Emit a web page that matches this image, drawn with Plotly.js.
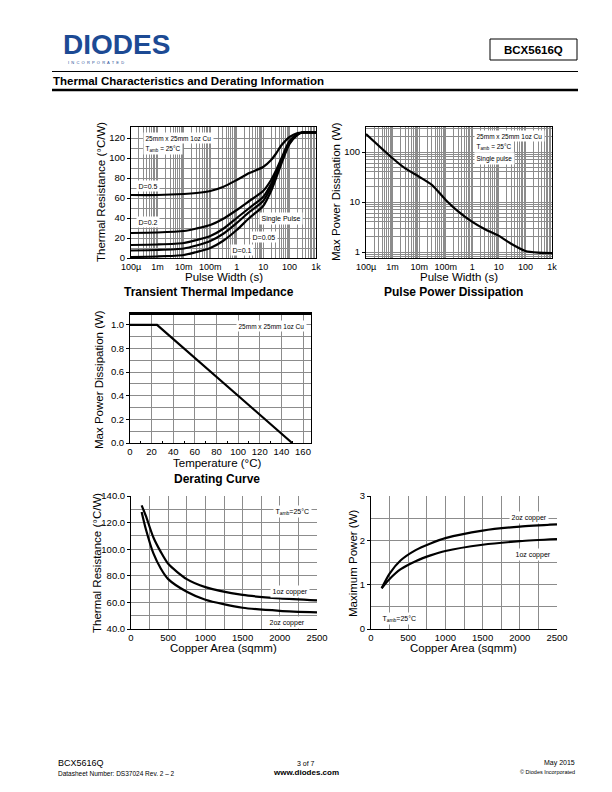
<!DOCTYPE html>
<html><head><meta charset="utf-8">
<script src="https://cdn.plot.ly/plotly-3.0.1.min.js"></script>
<style>html,body{margin:0;padding:0;background:#fff}#g{width:612px;height:792px}</style>
</head><body><div id="g"></div>
<script>
// ---------- DATA ----------
// Transient thermal impedance
const ttiPulse = [1e-4, 1e-3, 1e-2, 3e-2, 0.1, 0.3, 1, 3, 10, 20, 30, 50, 100, 200, 300, 1000];
const ttiD05   = [63, 63, 64, 65, 67, 71, 78, 85, 91, 98, 104, 113, 121, 125, 125.5, 125.5];
const ttiD02   = [25, 25.5, 27, 29.5, 33, 39, 48, 57, 67, 78, 87, 100, 117, 124, 125.5, 125.5];
const ttiD01   = [13, 13.5, 15, 18, 22, 29, 40, 50, 61, 74, 84, 98, 116, 124, 125.5, 125.5];
const ttiD005  = [7.5, 8, 9.5, 12.5, 17, 24, 35, 46, 57, 71, 82, 97, 115, 123.5, 125.5, 125.5];
const ttiSingle= [1, 1.5, 3, 6, 10, 17, 28, 40, 52, 67, 79, 95, 114, 123, 125.5, 125.5];
const logTickVals = [1e-4, 1e-3, 1e-2, 1e-1, 1, 10, 100, 1000];
const logTickText = ["100µ", "1m", "10m", "100m", "1", "10", "100", "1k"];
// Pulse power dissipation
const ppdPulse = [1e-4, 1e-3, 3e-3, 1e-2, 3e-2, 0.1, 0.3, 1, 3, 10, 30, 100, 300, 1000];
const ppdPower = [229, 75, 47, 32, 22, 11, 6.4, 4, 2.85, 2.1, 1.45, 1.05, 0.97, 0.95];
// Derating curve
const derTemp  = [0, 25, 150];
const derPower = [1.0, 1.0, 0.0];
// Thermal resistance vs copper area
const caArea   = [143, 200, 300, 400, 500, 750, 1000, 1500, 2000, 2500];
const tr1oz    = [133, 125, 109, 98, 89, 77.5, 71.5, 65.6, 63, 61.5];
const tr2oz    = [128, 115, 97, 85.5, 77.5, 68, 62, 56, 53.7, 52.5];
// Maximum power vs copper area
const mpArea   = [143, 250, 400, 600, 800, 1000, 1500, 2000, 2500];
const mp2oz    = [0.92, 1.25, 1.55, 1.78, 1.93, 2.05, 2.22, 2.31, 2.36];
const mp1oz    = [0.92, 1.13, 1.35, 1.53, 1.66, 1.76, 1.90, 1.98, 2.03];

// ---------- LAYOUT HELPERS ----------
const W = 612, H = 792;
const PX = x => x / W, PY = y => 1 - y / H;
const FONT = "Liberation Sans, Arial, sans-serif";
const GRID = "#8c8c8c";
const line = {color: "#000", width: 2.2, shape: "spline", smoothing: 0.7};

function tr(x, y, xa, ya, name) {
  return {x: x, y: y, xaxis: xa, yaxis: ya, name: name, type: "scatter", mode: "lines",
          line: line, showlegend: false, hoverinfo: "skip"};
}
const traces = [
  tr(ttiPulse, ttiD05, "x", "y", "D=0.5"),
  tr(ttiPulse, ttiD02, "x", "y", "D=0.2"),
  tr(ttiPulse, ttiD01, "x", "y", "D=0.1"),
  tr(ttiPulse, ttiD005, "x", "y", "D=0.05"),
  tr(ttiPulse, ttiSingle, "x", "y", "Single Pulse"),
  tr(ppdPulse, ppdPower, "x2", "y2", "Single pulse"),
  Object.assign(tr(derTemp, derPower, "x3", "y3", "Derating"), {line: {color: "#000", width: 2.2}}),
  tr(caArea, tr1oz, "x4", "y4", "1oz copper"),
  tr(caArea, tr2oz, "x4", "y4", "2oz copper"),
  tr(mpArea, mp2oz, "x5", "y5", "2oz copper"),
  tr(mpArea, mp1oz, "x5", "y5", "1oz copper"),
];

const tickF = {family: FONT, size: 9.5, color: "#000"};
function ax(d0, d1, o) {
  return Object.assign({domain: [d0, d1], showline: true, linecolor: "#000", linewidth: 1,
    mirror: true, ticks: "outside", ticklen: 3, tickcolor: "#000", tickfont: tickF,
    gridcolor: GRID, gridwidth: 1, zeroline: false, fixedrange: true}, o);
}
function xax(d0, d1, o) { return ax(d0, d1, Object.assign({ticks: "", ticklabelstandoff: 0}, o)); }
const logMinor = {dtick: "D1", showgrid: true, gridcolor: GRID, gridwidth: 1, ticks: ""};
const smallTick = {family: FONT, size: 9, color: "#000"};

const layout = {
  width: W, height: H, margin: {l: 0, r: 0, t: 0, b: 0},
  paper_bgcolor: "#fff", plot_bgcolor: "#fff", font: {family: FONT, color: "#000"},
  showlegend: false,
  // chart 1
  xaxis: xax(PX(131), PX(316), {type: "log", range: [-4, 3], anchor: "y", tickvals: logTickVals, ticktext: logTickText, minor: logMinor, tickfont: smallTick}),
  yaxis: ax(PY(258), PY(127), {range: [0, 131], anchor: "x", dtick: 20, tick0: 0,
    minor: {dtick: 10, showgrid: true, gridcolor: GRID}}),
  // chart 2
  xaxis2: xax(PX(366), PX(552), {type: "log", range: [-4, 3], anchor: "y2", tickvals: logTickVals, ticktext: logTickText, minor: logMinor, tickfont: smallTick}),
  yaxis2: ax(PY(258), PY(127), {type: "log", range: [-0.12, 2.5], anchor: "x2", tickvals: [1, 10, 100], ticktext: ["1", "10", "100"], minor: logMinor}),
  // chart 3
  xaxis3: xax(PX(130), PX(311), {range: [0, 167.4], anchor: "y3", dtick: 20, tick0: 0,
    minor: {dtick: 10, ticks: "inside", ticklen: 2, tickcolor: "#000", showgrid: false}}),
  yaxis3: ax(PY(443), PY(313), {range: [0, 1.1], anchor: "x3", dtick: 0.2, tick0: 0, tickformat: ".1f",
    minor: {dtick: 0.1, showgrid: true, gridcolor: GRID}}),
  // chart 4
  xaxis4: xax(PX(131), PX(317), {range: [0, 2500], anchor: "y4", dtick: 500, tick0: 0, mirror: false,
    minor: {dtick: 250, showgrid: true, gridcolor: GRID}}),
  yaxis4: ax(PY(629), PY(496), {range: [40, 140], anchor: "x4", dtick: 20, tick0: 40, tickformat: ".1f", mirror: false,
    minor: {dtick: 10, showgrid: true, gridcolor: GRID}}),
  // chart 5
  xaxis5: xax(PX(371), PX(557), {range: [0, 2500], anchor: "y5", dtick: 500, tick0: 0, mirror: false,
    minor: {dtick: 250, showgrid: true, gridcolor: GRID}}),
  yaxis5: ax(PY(629), PY(496), {range: [0, 3], anchor: "x5", dtick: 1, tick0: 0, mirror: false,
    minor: {dtick: 0.5, showgrid: true, gridcolor: GRID}}),
  shapes: [
    {type: "line", xref: "paper", yref: "paper", x0: PX(52), x1: PX(578), y0: PY(71.5), y1: PY(71.5), line: {color: "#000", width: 1}},
    {type: "line", xref: "paper", yref: "paper", x0: PX(52), x1: PX(578), y0: PY(90), y1: PY(90), line: {color: "#000", width: 2.5}},
    {type: "rect", xref: "paper", yref: "paper", x0: PX(490), x1: PX(577), y0: PY(39), y1: PY(60), line: {color: "#000", width: 1}},
    {type: "line", xref: "paper", yref: "paper", x0: PX(130), x1: PX(311), y0: PY(313.5), y1: PY(313.5), line: {color: "#000", width: 3}},
  ],
  annotations: []
};

const A = layout.annotations;
function note(text, x, y, o) {
  A.push(Object.assign({text: text, xref: "paper", yref: "paper", x: PX(x), y: PY(y), showarrow: false,
    xanchor: "left", yanchor: "middle", borderpad: 0, font: {family: FONT, size: 7, color: "#000"}}, o || {}));
}
function lab(text, x, y, size) {
  note(text, x, y, {bgcolor: "#fff", borderpad: 1.5, font: {family: FONT, size: size || 7, color: "#000"}});
}
const axT = {family: FONT, size: 11.5, color: "#000"};
function xt(text, x, y) { note(text, x, y, {font: axT, xanchor: "center"}); }
function yt(text, x, y) { note(text, x, y, {font: axT, xanchor: "center", textangle: -90}); }

// header
note("DIODES", 62, 44, {font: {family: FONT, size: 28, color: "#1c4a94", weight: 700}});
note("I  N  C  O  R  P  O  R  A  T  E  D", 67, 62.5, {font: {family: FONT, size: 4, color: "#1c4a94"}});
note("<b>BCX5616Q</b>", 533.5, 49.5, {font: {family: FONT, size: 11.5, color: "#000"}, xanchor: "center"});
note("<b>Thermal Characteristics and Derating Information</b>", 52, 80.5, {font: {family: FONT, size: 11.5, color: "#000"}});
// axis titles
xt("Pulse Width (s)", 224, 277);
yt("Thermal Resistance (°C/W)", 101, 192);
xt("Pulse Width (s)", 459, 277);
yt("Max Power Dissipation (W)", 336, 192);
xt("Temperature (°C)", 217, 462.5);
yt("Max Power Dissipation (W)", 99, 380);
xt("Copper Area (sqmm)", 223, 647.5);
yt("Thermal Resistance (°C/W)", 97, 563);
xt("Copper Area (sqmm)", 463, 647.5);
yt("Maximum Power (W)", 353, 563);
// chart titles
note("<b>Transient Thermal Impedance</b>", 209, 291.5, {font: {family: FONT, size: 12, color: "#000"}, xanchor: "center"});
note("<b>Pulse Power Dissipation</b>", 453, 291.5, {font: {family: FONT, size: 12, color: "#000"}, xanchor: "center"});
note("<b>Derating Curve</b>", 217, 479, {font: {family: FONT, size: 12, color: "#000"}, xanchor: "center"});
// chart 1 labels
lab("25mm x 25mm 1oz Cu", 143, 138, 6.5);
lab("T<sub>amb</sub> = 25°C", 143, 148.5, 6.5);
lab("D=0.5", 136, 186);
lab("D=0.2", 136, 222);
lab("Single Pulse", 259, 218);
lab("D=0.05", 250, 237);
lab("D=0.1", 230, 250);
// chart 2 labels
lab("25mm x 25mm 1oz Cu", 474, 136, 6.5);
lab("T<sub>amb</sub> = 25°C", 474, 147, 6.5);
lab("Single pulse", 474, 158.5, 6.5);
// chart 3 label
lab("25mm x 25mm 1oz Cu", 236, 326, 6.5);
// chart 4 labels
lab("T<sub>amb</sub>=25°C", 273, 511);
lab("1oz copper", 270, 591);
lab("2oz copper", 267, 622);
// chart 5 labels
lab("2oz copper", 509, 517);
lab("1oz copper", 513, 554);
lab("T<sub>amb</sub>=25°C", 380, 618);
// footer
note("BCX5616Q", 57, 763, {font: {family: FONT, size: 9}});
note("Datasheet Number: DS37024 Rev. 2 – 2", 57, 773.5, {font: {family: FONT, size: 6.5}});
note("3 of 7", 306, 763, {font: {family: FONT, size: 7}, xanchor: "center"});
note("<b>www.diodes.com</b>", 306, 772.5, {font: {family: FONT, size: 8}, xanchor: "center"});
note("May 2015", 576, 763, {font: {family: FONT, size: 7}, xanchor: "right"});
note("© Diodes Incorporated", 576, 772, {font: {family: FONT, size: 5.5}, xanchor: "right"});

Plotly.newPlot("g", traces, layout, {staticPlot: true, displayModeBar: false});
</script></body></html>
